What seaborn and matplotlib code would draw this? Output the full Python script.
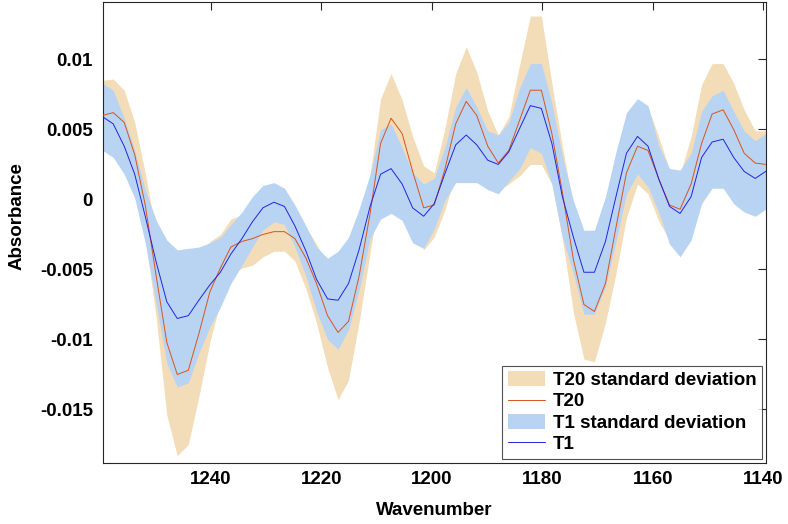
import matplotlib
matplotlib.use("Agg")
import matplotlib.pyplot as plt
import pandas as pd
import seaborn as sns
from matplotlib.lines import Line2D
from matplotlib.patches import Patch
from matplotlib.ticker import FuncFormatter

# spectra (mean and standard deviation per wavenumber)
wavenumber = [
    1259.6, 1257.7, 1255.7, 1253.8, 1251.9, 1249.9, 1248.0, 1246.1, 1244.1, 1242.2,
    1240.2, 1238.3, 1236.4, 1234.4, 1232.5, 1230.6, 1228.6, 1226.7, 1224.8, 1222.8,
    1220.9, 1218.9, 1217.0, 1215.1, 1213.2, 1211.2, 1209.3, 1207.4, 1205.4, 1203.5,
    1201.5, 1199.6, 1197.7, 1195.7, 1193.8, 1191.9, 1189.9, 1188.0, 1186.1, 1184.1,
    1182.2, 1180.2, 1178.3, 1176.4, 1174.4, 1172.5, 1170.6, 1168.6, 1166.7, 1164.8,
    1162.8, 1160.9, 1158.9, 1157.0, 1155.1, 1153.1, 1151.2, 1149.3, 1147.3, 1145.4,
    1143.5, 1141.5, 1139.6,
]
t20_mean = [
    0.0060, 0.0062, 0.0055, 0.0032, -0.0004, -0.0055, -0.0102, -0.0125, -0.0122, -0.0096,
    -0.0066, -0.0049, -0.0034, -0.0030, -0.0028, -0.0025, -0.0023, -0.0023, -0.0028, -0.0042,
    -0.0060, -0.0083, -0.0095, -0.0087, -0.0055, -0.0010, 0.0040, 0.0058, 0.0047, 0.0020,
    -0.0006, -0.0004, 0.0021, 0.0054, 0.0070, 0.0060, 0.0038, 0.0026, 0.0035, 0.0057,
    0.0078, 0.0078, 0.0047, 0.0005, -0.0043, -0.0075, -0.0080, -0.0060, -0.0020, 0.0019,
    0.0038, 0.0035, 0.0014, -0.0004, -0.0007, 0.0011, 0.0040, 0.0061, 0.0064, 0.0050,
    0.0033, 0.0026, 0.0025,
]
t20_sd = [
    0.0025, 0.0024, 0.0023, 0.0023, 0.0023, 0.0030, 0.0052, 0.0058, 0.0053, 0.0045,
    0.0036, 0.0024, 0.0020, 0.0019, 0.0019, 0.0016, 0.0014, 0.0014, 0.0016, 0.0022,
    0.0028, 0.0037, 0.0048, 0.0042, 0.0033, 0.0028, 0.0032, 0.0032, 0.0024, 0.0025,
    0.0030, 0.0023, 0.0029, 0.0036, 0.0039, 0.0031, 0.0025, 0.0020, 0.0024, 0.0040,
    0.0053, 0.0053, 0.0036, 0.0033, 0.0038, 0.0039, 0.0036, 0.0028, 0.0033, 0.0032,
    0.0027, 0.0031, 0.0030, 0.0025, 0.0025, 0.0034, 0.0042, 0.0036, 0.0033, 0.0033,
    0.0031, 0.0023, 0.0024,
]
t1_mean = [
    0.0059, 0.0054, 0.0038, 0.0018, -0.0012, -0.0045, -0.0073, -0.0085, -0.0083, -0.0072,
    -0.0061, -0.0052, -0.0039, -0.0028, -0.0016, -0.0006, -0.0002, -0.0005, -0.0019, -0.0037,
    -0.0057, -0.0071, -0.0072, -0.0060, -0.0036, -0.0005, 0.0018, 0.0022, 0.0011, -0.0006,
    -0.0012, -0.0003, 0.0018, 0.0039, 0.0046, 0.0039, 0.0028, 0.0025, 0.0034, 0.0051,
    0.0067, 0.0065, 0.0040, 0.0002, -0.0027, -0.0052, -0.0052, -0.0030, 0.0002, 0.0033,
    0.0045, 0.0038, 0.0014, -0.0005, -0.0010, 0.0002, 0.0030, 0.0041, 0.0043, 0.0030,
    0.0020, 0.0015, 0.0020,
]
t1_sd = [
    0.0024, 0.0024, 0.0020, 0.0017, 0.0019, 0.0030, 0.0044, 0.0049, 0.0048, 0.0038,
    0.0030, 0.0025, 0.0021, 0.0019, 0.0018, 0.0016, 0.0014, 0.0013, 0.0015, 0.0018,
    0.0023, 0.0029, 0.0035, 0.0033, 0.0029, 0.0023, 0.0032, 0.0032, 0.0026, 0.0025,
    0.0023, 0.0018, 0.0019, 0.0027, 0.0034, 0.0027, 0.0021, 0.0021, 0.0021, 0.0029,
    0.0030, 0.0032, 0.0029, 0.0029, 0.0026, 0.0030, 0.0030, 0.0032, 0.0032, 0.0029,
    0.0027, 0.0029, 0.0024, 0.0027, 0.0031, 0.0031, 0.0033, 0.0033, 0.0035, 0.0033,
    0.0029, 0.0027, 0.0027,
]
x_ticks = [1240, 1220, 1200, 1180, 1160, 1140]
y_ticks = [-0.015, -0.01, -0.005, 0, 0.005, 0.01]
labels = ["T20 standard deviation", "T20", "T1 standard deviation", "T1"]


def main():
    sns.set_theme(style="white")
    plt.rcParams["font.family"] = ["Liberation Sans", "DejaVu Sans"]
    plt.rcParams.update(
        {
            "font.size": 13.5,
            "font.weight": "bold",
            "text.color": "black",
            "axes.labelcolor": "black",
            "axes.labelweight": "bold",
            "axes.edgecolor": "#262626",
            "axes.linewidth": 0.8,
            "xtick.color": "#262626",
            "ytick.color": "#262626",
            "xtick.labelcolor": "black",
            "ytick.labelcolor": "black",
        }
    )

    df = pd.DataFrame(
        {
            "wn": wavenumber,
            "t20": t20_mean,
            "t20_sd": t20_sd,
            "t1": t1_mean,
            "t1_sd": t1_sd,
        }
    )

    tan = "#F3DDB9"
    light_blue = "#B9D4F2"
    red = "#D95319"
    blue = "#2222DD"

    fig = plt.figure(figsize=(7.88, 5.24), dpi=100)
    ax = fig.add_axes([0.1303, 0.1170, 0.8414, 0.8792])

    ax.fill_between(df["wn"], df["t20"] - df["t20_sd"], df["t20"] + df["t20_sd"],
                    color=tan, linewidth=0, zorder=1)
    ax.fill_between(df["wn"], df["t1"] - df["t1_sd"], df["t1"] + df["t1_sd"],
                    color=light_blue, linewidth=0, zorder=2)
    sns.lineplot(data=df, x="wn", y="t20", ax=ax, color=red, linewidth=0.7,
                 estimator=None, zorder=3)
    sns.lineplot(data=df, x="wn", y="t1", ax=ax, color=blue, linewidth=0.7,
                 estimator=None, zorder=4)

    ax.set_xlim(1259.6, 1139.6)
    ax.set_ylim(-0.0188, 0.0141)
    ax.set_xticks(x_ticks)
    ax.set_yticks(y_ticks)
    ax.yaxis.set_major_formatter(FuncFormatter(lambda v, p: f"{round(v, 6):g}"))
    ax.tick_params(direction="in", length=6, width=0.8, top=True, right=True,
                   labelsize=13.5)
    ax.tick_params(axis="x", pad=6)
    ax.tick_params(axis="y", pad=7)
    for lab in ax.get_xticklabels() + ax.get_yticklabels():
        lab.set_fontweight("bold")

    ax.set_xlabel("Wavenumber", fontsize=13.5, fontweight="bold", labelpad=10)
    ax.set_ylabel("Absorbance", fontsize=13.5, fontweight="bold")
    ax.yaxis.set_label_coords(-0.116, 0.535)

    handles = [
        Patch(facecolor=tan, edgecolor="none"),
        Line2D([], [], color=red, linewidth=0.7),
        Patch(facecolor=light_blue, edgecolor="none"),
        Line2D([], [], color=blue, linewidth=0.7),
    ]
    leg = ax.legend(handles, labels, loc="lower right", fontsize=13.5,
                    frameon=True, fancybox=False, edgecolor="#262626",
                    borderaxespad=0.2, handlelength=2.0, handleheight=0.8,
                    labelspacing=0.2, handletextpad=0.4, borderpad=0.3)
    leg.get_frame().set_linewidth(0.8)
    for t in leg.get_texts():
        t.set_fontweight("bold")
        t.set_color("black")

    fig.savefig("out.png", dpi=100)
    plt.close(fig)


if __name__ == "__main__":
    main()
